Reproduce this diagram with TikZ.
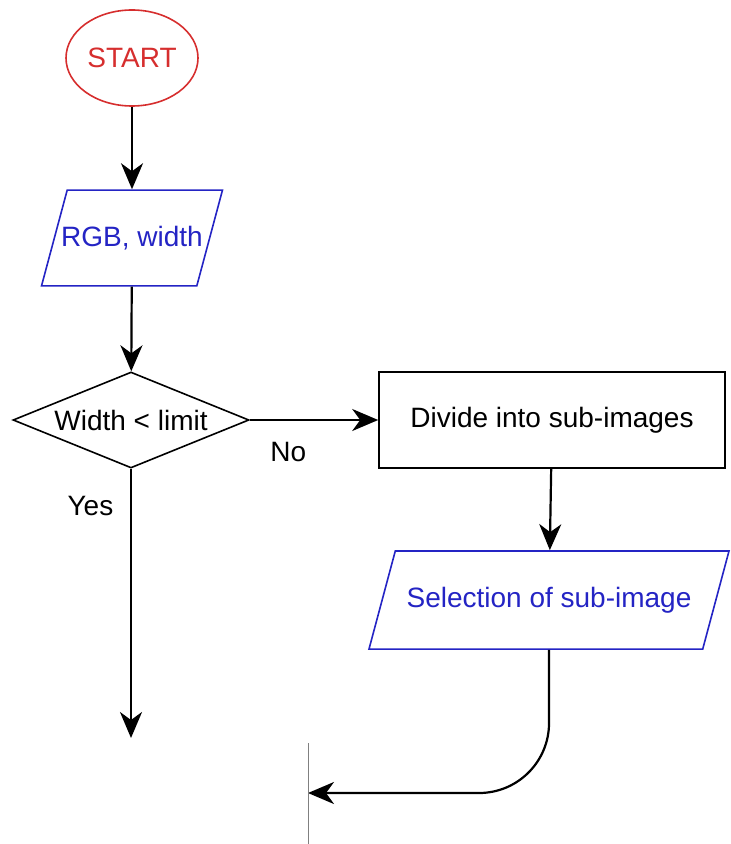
\documentclass[tikz,border=0pt]{standalone}
\usepackage{fontspec}
\setmainfont{Liberation Sans}
\usetikzlibrary{arrows.meta}
\usetikzlibrary{shapes.geometric}
\definecolor{termred}{RGB}{214,46,46}
\definecolor{ioblue}{RGB}{36,36,196}
\tikzset{term/.style = {ellipse, draw=termred, text=termred, line width=0.8pt, inner sep=0, minimum width=66pt, minimum height=48pt}}
\tikzset{io/.style = {trapezium, trapezium left angle=75, trapezium right angle=105, trapezium stretches body, draw=ioblue, text=ioblue, line width=0.8pt, inner xsep=0, inner ysep=18pt}}
\tikzset{proc/.style = {rectangle, draw, line width=0.8pt, inner sep=0, minimum width=173pt, minimum height=48pt}}
\tikzset{test/.style = {diamond, aspect=2.46, draw, line width=0.8pt, inner sep=0, minimum width=118pt, minimum height=48pt}}
\tikzset{flow/.style = {line width=1.1pt, -{Stealth[length=13pt,width=11pt,inset=4pt]}}}

\begin{document}
\begin{tikzpicture}[x=0.5pt, y=-0.5pt, font=\fontsize{14}{17}\selectfont]
    \useasboundingbox (0,0) rectangle (730,844);
    \node [term] (start) at (132,58) {START};
    \node [io, inner xsep=-3pt] (rgb) at (132,238) {RGB, width};
    \node [test] (dec) at (131,420) {Width < limit};
    \node [proc] (div) at (552,420) {Divide into sub-images};
    \node [io, minimum width=180pt] (sel) at (549,600) {Selection of sub-image};
    \coordinate (yesend) at (131,738);
    \coordinate (backend) at (308,793);
    \draw [flow] (start) -- (rgb);
    \draw [flow] (rgb) -- (dec);
    \draw [flow] (dec.east) -- node [below=7pt, pos=0.3] {No} (div.west);
    \draw [flow] (dec.south) -- node [left=5pt, pos=0.14] {Yes} (yesend);
    \draw [flow] (div) -- (sel);
    \draw [flow, rounded corners=35pt] (sel.south) |- (backend);
    % loose edge of the next step
    \draw [gray, line width=0.4pt] (308,743) -- (308,844);
\end{tikzpicture}
\end{document}
